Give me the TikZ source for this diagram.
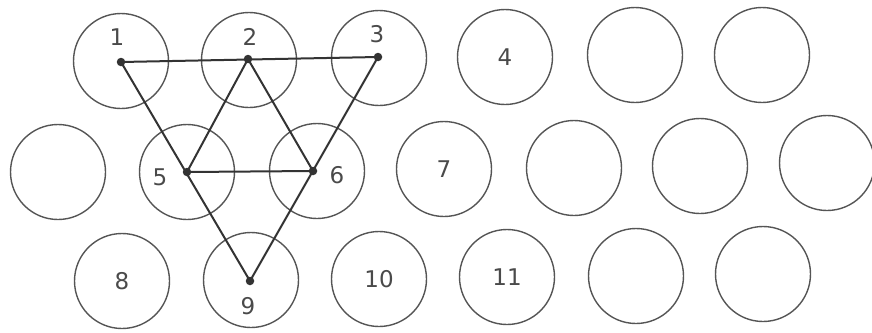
\documentclass[tikz,border=0pt]{standalone}
\usepackage{fontspec}
\setmainfont{DejaVu Sans}
\definecolor{ringc}{HTML}{555555}
\definecolor{linec}{HTML}{333333}
\definecolor{txtc}{HTML}{4A4A4A}
\begin{document}
\begin{tikzpicture}[x=1pt,y=-1pt,
  ring/.style={circle,draw=ringc,line width=1.4pt,minimum size=95pt,inner sep=0pt,font=\fontsize{23}{23}\selectfont,text=txtc},
  lab/.style={inner sep=0pt,font=\fontsize{23}{23}\selectfont,text=txtc},
  edge/.style={draw=linec,line width=2pt},
  dot/.style={circle,fill=linec,inner sep=0pt,minimum size=8.5pt}]
\useasboundingbox (0,0) rectangle (872,332);
% row 1
\node[ring] (r1) at (121,61) {};
\node[ring] (r2) at (249,60) {};
\node[ring] (r3) at (379,58) {};
\node[ring] (r4) at (505,57) {4};
\node[ring] (r5) at (635,55) {};
\node[ring] (r6) at (762,55) {};
% row 2
\node[ring] (s1) at (58,172) {};
\node[ring] (s2) at (187,172) {};
\node[ring] (s3) at (317,171) {};
\node[ring] (s4) at (444,169) {7};
\node[ring] (s5) at (574,168) {};
\node[ring] (s6) at (700,166) {};
\node[ring] (s7) at (827,163) {};
% row 3
\node[ring] (t1) at (122,281) {8};
\node[ring] (t2) at (251,280) {};
\node[ring] (t3) at (379,279) {10};
\node[ring] (t4) at (507,277) {11};
\node[ring] (t5) at (636,276) {};
\node[ring] (t6) at (763,274) {};
% points
\coordinate (p1) at (121,62);
\coordinate (p2) at (248,59);
\coordinate (p3) at (378,57);
\coordinate (p5) at (187,172);
\coordinate (p6) at (313,171);
\coordinate (p9) at (250,281);
% lines
\draw[edge] (p1) -- (p3);
\draw[edge] (p1) -- (p9);
\draw[edge] (p3) -- (p9);
\draw[edge] (p2) -- (p5);
\draw[edge] (p2) -- (p6);
\draw[edge] (p5) -- (p6);
\foreach \p in {p1,p2,p3,p5,p6,p9} \node[dot] at (\p) {};
% labels
\node[lab] (l1) at (117,37) {1};
\node[lab] (l2) at (250,37) {2};
\node[lab] (l3) at (377,34) {3};
\node[lab] (l5) at (160,177) {5};
\node[lab] (l6) at (337,175) {6};
\node[lab] (l9) at (248,306) {9};
\end{tikzpicture}
\end{document}
